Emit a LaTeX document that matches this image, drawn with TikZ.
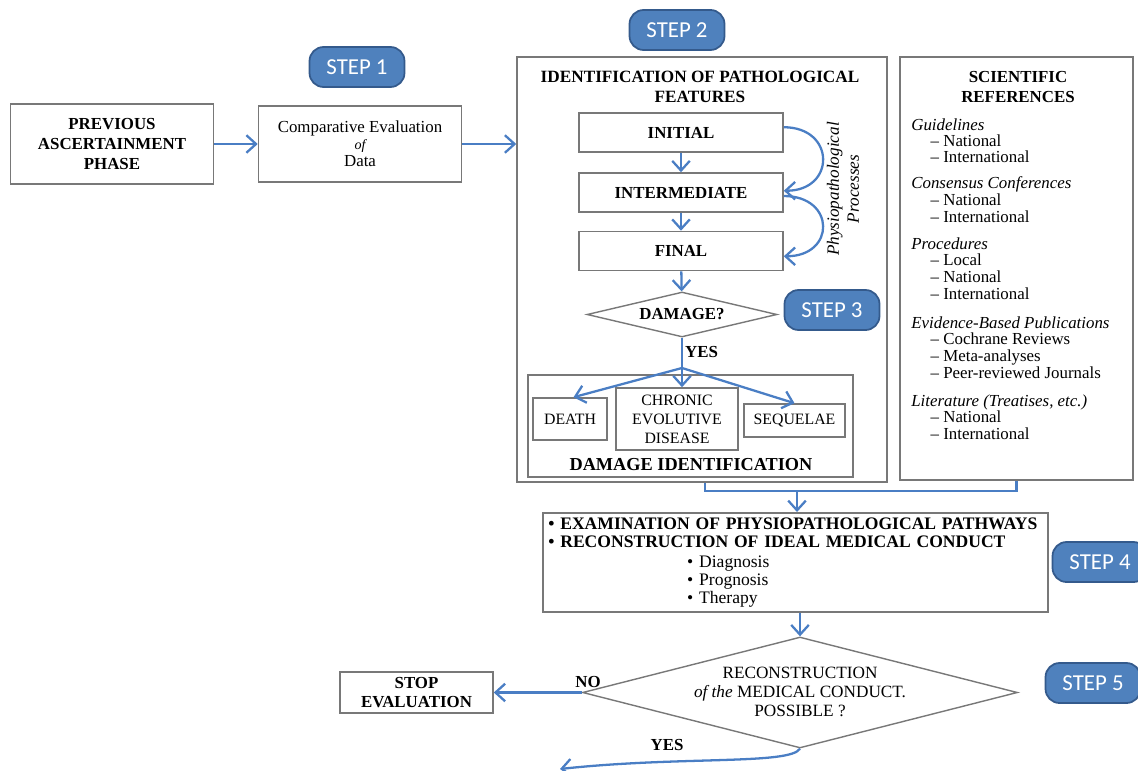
\documentclass[tikz,border=0pt]{standalone}
\usepackage{fontspec}
\setmainfont{Liberation Serif}
\newfontfamily\tagfont{Carlito}
\usetikzlibrary{shapes.geometric, arrows.meta, positioning, calc}
\definecolor{flowblue}{RGB}{74,126,196}
\definecolor{tagblue}{RGB}{79,129,189}
\definecolor{tagedge}{RGB}{52,90,140}
\definecolor{boxgray}{RGB}{120,120,120}

\begin{document}
\begin{tikzpicture}[
    x=0.02cm, y=-0.02cm,
    every node/.style={font=\fontsize{9.6}{11}\selectfont},
    box/.style={rectangle, draw=boxgray, line width=0.9pt, fill=white,
                align=center, inner sep=2pt},
    frame/.style={rectangle, draw=boxgray, line width=0.9pt, inner sep=0pt},
    bbox/.style={box, font=\fontsize{9.6}{11.3}\selectfont\bfseries},
    steptag/.style={rectangle, rounded corners=8pt, draw=tagedge, line width=1pt,
                fill=tagblue, text=white, minimum width=1.9cm, minimum height=0.8cm,
                font=\tagfont\fontsize{13}{14}\selectfont},
    decision/.style={diamond, draw=boxgray, line width=0.8pt, aspect=4,
                inner sep=0pt, align=center, fill=white},
    lbl/.style={font=\fontsize{9.6}{11}\selectfont\bfseries, inner sep=1pt},
    arr/.style={-{Straight Barb[length=5.5pt, width=10pt]}, line width=1.3pt, flowblue},
    link/.style={line width=1.3pt, flowblue}
  ]
  \clip (0,0) rectangle (1138,770);

  % step 1
  \node[bbox, minimum width=4.06cm, minimum height=1.6cm] (prev) at (112,144)
        {PREVIOUS\\ASCERTAINMENT\\PHASE};
  \node[box, minimum width=4.06cm, minimum height=1.52cm,
        font=\fontsize{9.6}{9.8}\selectfont] (comp) at (360,144)
        {Comparative Evaluation\\{\itshape\fontsize{8}{9}\selectfont of}\\Data};
  \node[steptag] (tag1) at (357,67) {STEP 1};

  % step 2
  \node[frame, minimum width=7.4cm, minimum height=8.5cm] (ident) at (702,269.5) {};
  \node[steptag] (tag2) at (677,30) {STEP 2};
  \node[lbl, align=center, font=\fontsize{9.8}{11.3}\selectfont\bfseries] (identtitle)
        at (700,87) {IDENTIFICATION OF PATHOLOGICAL\\FEATURES};
  \node[bbox, minimum width=4.08cm, minimum height=0.78cm] (init)  at (681,132.5) {INITIAL};
  \node[bbox, minimum width=4.08cm, minimum height=0.78cm] (inter) at (681,192.5) {INTERMEDIATE};
  \node[bbox, minimum width=4.08cm, minimum height=0.78cm] (final) at (681,251) {FINAL};
  \node[rotate=90, align=center, font=\fontsize{9.8}{11.3}\selectfont\itshape] (proc)
        at (843,189) {Physiopathological\\Processes};

  % step 3
  \node[decision, minimum width=3.8cm, minimum height=0.9cm,
        font=\fontsize{9.6}{11}\selectfont\bfseries] (dmg) at (682,314.5) {DAMAGE?};
  \node[steptag] (tag3) at (832,310) {STEP 3};
  \node[lbl, anchor=west] (yes1) at (683,352) {YES};
  \coordinate (split) at (682,368);
  \node[frame, minimum width=6.5cm, minimum height=2.04cm] (dmgbox) at (690.5,426) {};
  \node[box, minimum width=1.48cm, minimum height=0.84cm, font=\fontsize{9}{10.8}\selectfont]
        (death) at (570,419) {DEATH};
  \node[box, minimum width=2.44cm, minimum height=1.24cm, font=\fontsize{9}{10.8}\selectfont]
        (chronic) at (677,419) {CHRONIC\\EVOLUTIVE\\DISEASE};
  \node[box, minimum width=2.02cm, minimum height=0.66cm, font=\fontsize{9}{10.8}\selectfont]
        (seq) at (794.5,420.5) {SEQUELAE};
  \node[lbl, font=\fontsize{10.4}{12}\selectfont\bfseries] (dmglabel) at (691,465)
        {DAMAGE IDENTIFICATION};

  % scientific references
  \node[frame, minimum width=4.66cm, minimum height=8.46cm] (sci) at (1016.5,268.5) {};
  \node[lbl, align=center, font=\fontsize{9.6}{11.3}\selectfont\bfseries] (scititle)
        at (1018,87) {SCIENTIFIC\\REFERENCES};
  \foreach \i/\y/\t in {
      1/125/\textit{Guidelines}, 2/141/\hspace*{11pt}-- National, 3/157/\hspace*{11pt}-- International,
      4/183/\textit{Consensus Conferences}, 5/199/\hspace*{11pt}-- National, 6/216/\hspace*{11pt}-- International,
      7/243/\textit{Procedures}, 8/259/\hspace*{11pt}-- Local, 9/276/\hspace*{11pt}-- National,
      10/293/\hspace*{11pt}-- International,
      11/322/\textit{Evidence-Based Publications}, 12/338/\hspace*{11pt}-- Cochrane Reviews,
      13/355/\hspace*{11pt}-- Meta-analyses, 14/372/\hspace*{11pt}-- Peer-reviewed Journals,
      15/400/\textit{Literature (Treatises, etc.)}, 16/416/\hspace*{11pt}-- National,
      17/433/\hspace*{11pt}-- International}
    \node[anchor=base west, inner sep=0pt] (ref\i) at (911,\y+6) {\t};

  % step 4
  \coordinate (merge) at (797,491);
  \node[box, inner sep=3pt, text width=10.1cm-6pt, minimum height=1.98cm, align=left,
        font=\fontsize{10}{10.2}\selectfont] (exam) at (795.5,562.5)
        {\textbf{\textbullet\ EXAMINATION OF PHYSIOPATHOLOGICAL PATHWAYS}\\
         \textbf{\textbullet\ RECONSTRUCTION OF IDEAL MEDICAL CONDUCT}\\[1pt]
         \hspace*{79pt}\textbullet\ Diagnosis\\
         \hspace*{79pt}\textbullet\ Prognosis\\
         \hspace*{79pt}\textbullet\ Therapy};
  \node[steptag] (tag4) at (1100,562) {STEP 4};

  % step 5
  \node[decision, minimum width=8.7cm, minimum height=2.22cm] (recon) at (800,692.5) {};
  \node[align=center, font=\fontsize{9.8}{11}\selectfont] (recontxt) at (800,692)
        {RECONSTRUCTION\\{\itshape of the} MEDICAL CONDUCT.\\POSSIBLE ?};
  \node[steptag] (tag5) at (1093,683) {STEP 5};
  \node[bbox, minimum width=3.06cm, minimum height=0.82cm] (stop) at (416.5,692.5)
        {STOP\\EVALUATION};
  \node[lbl] (no) at (588,682) {NO};
  \node[lbl] (yes2) at (667,745) {YES};
  \coordinate (onward) at (560,769);

  % connectors
  \draw[arr] (prev) -- (comp);
  \draw[arr] (comp) -- (comp -| ident.west);
  \draw[arr] (init) -- (inter);
  \draw[arr] (inter) -- (final);
  \draw[arr] (final) -- (dmg);
  \draw[arr] ([yshift=3pt]init.east) .. controls +(52,0) and +(52,0) .. ([yshift=1pt]inter.east);
  \draw[arr] ([yshift=-2pt]inter.east) .. controls +(52,0) and +(52,0) .. ([yshift=-3pt]final.east);
  \draw[link] (dmg.south) -- (split);
  \draw[arr] (split) -- ([xshift=2pt]death.north);
  \draw[arr] (split) -- (split |- chronic.north);
  \draw[arr] (split) -- (seq.north);
  \draw[link] (ident.south -| 705,0) |- (merge) -| (sci.south);
  \draw[arr] (merge) -- (merge |- exam.north);
  \draw[arr] (exam.south -| recon.north) -- (recon.north);
  \draw[arr] (recon.west) -- (stop.east);
  \draw[arr] (recon.south) .. controls (790,765) and (680,756) .. (onward);
\end{tikzpicture}
\end{document}
